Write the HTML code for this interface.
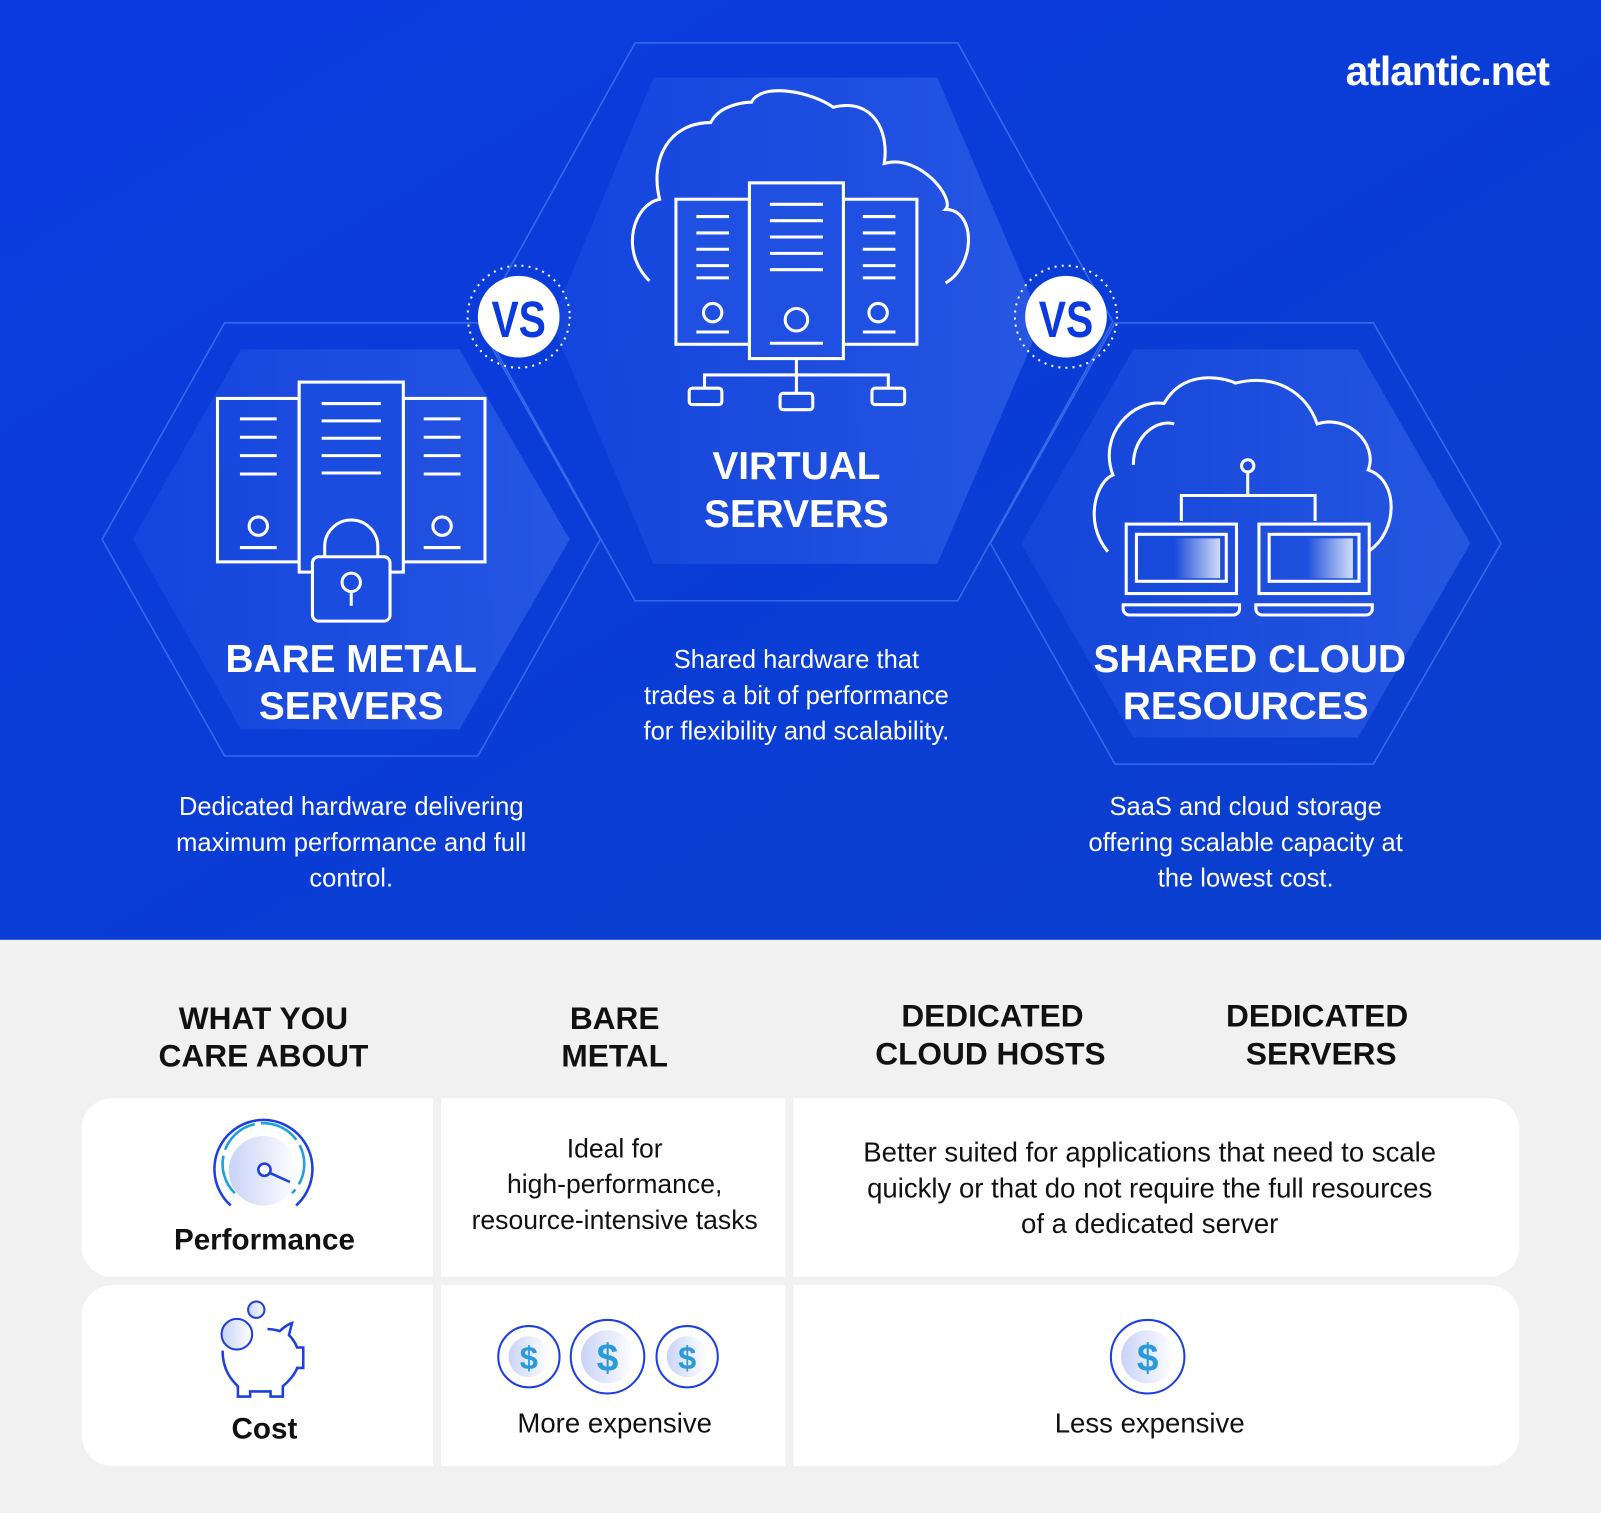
<!DOCTYPE html>
<html><head><meta charset="utf-8"><style>
html,body{margin:0;padding:0;background:#f1f1f1;}
svg{display:block}
text{font-family:"Liberation Sans",sans-serif;}
</style></head><body>
<svg width="1601" height="1513" viewBox="0 0 1568 1481" preserveAspectRatio="none" xmlns="http://www.w3.org/2000/svg">
<defs>
<linearGradient id="bg" x1="0" y1="0" x2="1" y2="1">
<stop offset="0" stop-color="#0b3be0"/><stop offset="1" stop-color="#0a3ecc"/></linearGradient>
<linearGradient id="hx" x1="0" y1="0" x2="1" y2="0">
<stop offset="0" stop-color="#2a5ae6" stop-opacity="0.3"/><stop offset="1" stop-color="#3a68ea" stop-opacity="0.6"/></linearGradient>
<linearGradient id="lg" x1="0" y1="0" x2="1" y2="0">
<stop offset="0" stop-color="#c9d3f7"/><stop offset="1" stop-color="#ffffff"/></linearGradient>
<linearGradient id="scr" x1="0" y1="0" x2="1" y2="0">
<stop offset="0" stop-color="#fff" stop-opacity="0"/><stop offset="1" stop-color="#fff" stop-opacity="0.8"/></linearGradient>
</defs>
<rect width="1568" height="920" fill="url(#bg)"/>
<rect y="920" width="1568" height="561" fill="#f1f1f1"/>
<g fill="none" stroke="#4f7cf0" stroke-width="1.5" opacity="0.7">
<polygon points="100,528 220,316 468,316 588,528 468,740 220,740"/>
<polygon points="470,315 622,42 938,42 1090,315 938,588 622,588"/>
<polygon points="970,532 1092,316 1345,316 1470,532 1345,748 1092,748"/>
</g>
<polygon points="130,528 236,342 450,342 558,528 450,714 236,714" fill="url(#hx)"/>
<polygon points="540,315 640,76 918,76 1020,315 918,552 640,552" fill="url(#hx)"/>
<polygon points="1000,532 1110,342 1330,342 1440,532 1330,722 1110,722" fill="url(#hx)"/>
<text x="1517" y="83" text-anchor="end" font-size="40" font-weight="bold" fill="#fff" letter-spacing="-1">atlantic.net</text>
<g>
<circle cx="508" cy="310" r="50" fill="none" stroke="#fff" stroke-width="2" stroke-dasharray="2 5"/>
<circle cx="508" cy="310" r="40" fill="#fff"/>
<text x="508" y="330" text-anchor="middle" font-size="50" font-weight="bold" fill="#0b3be0" transform="translate(508 0) scale(0.8 1) translate(-508 0)">VS</text>
<circle cx="1044" cy="310" r="50" fill="none" stroke="#fff" stroke-width="2" stroke-dasharray="2 5"/>
<circle cx="1044" cy="310" r="40" fill="#fff"/>
<text x="1044" y="330" text-anchor="middle" font-size="50" font-weight="bold" fill="#0b3be0" transform="translate(1044 0) scale(0.8 1) translate(-1044 0)">VS</text>
</g>
<g fill="none" stroke="#fff" stroke-width="3">
<rect x="213" y="390" width="80" height="160"/>
<rect x="395" y="390" width="80" height="160"/>
<rect x="293" y="374" width="102" height="186" fill="#1a4ce0"/>
<path d="M235 410h36M235 428h36M235 446h36M235 464h36M235 536h36M415 410h36M415 428h36M415 446h36M415 464h36M415 536h36M315 395h58M315 412h58M315 429h58M315 446h58M315 463h58"/>
<circle cx="253" cy="515" r="9"/><circle cx="433" cy="515" r="9"/>
<path d="M318 545v-10a26 26 0 0 1 52 0v10"/>
<rect x="306" y="545" width="76" height="63" rx="6" fill="#1a4ce0"/>
<circle cx="344" cy="570" r="9"/><path d="M344 579v14"/>
</g>
<g fill="none" stroke="#fff" stroke-width="3">
<path d="M636 275c-30-30-15-75 10-80c-10-40 10-75 50-75c10-20 40-20 40-20c10-20 60-10 80 5c40-10 55 25 50 55c35-10 70 35 60 45c30 0 30 55 0 72"/>
<rect x="662" y="195" width="72" height="142" fill="#1f50e2"/>
<rect x="826" y="195" width="72" height="142" fill="#1f50e2"/>
<rect x="734" y="179" width="92" height="172" fill="#1f50e2"/>
<path d="M682 212h32M682 228h32M682 244h32M682 260h32M682 272h32M682 325h32M845 212h32M845 228h32M845 244h32M845 260h32M845 272h32M845 325h32M754 200h52M754 216h52M754 232h52M754 248h52M754 264h52M754 336h52"/>
<circle cx="698" cy="306" r="9"/><circle cx="780" cy="313" r="11"/><circle cx="860" cy="306" r="9"/>
<path d="M780 351v16M690 380v-13h180v13M780 367v17"/>
<rect x="675" y="380" width="32" height="16" rx="3"/><rect x="764" y="385" width="32" height="16" rx="3"/><rect x="854" y="380" width="32" height="16" rx="3"/>
</g>
<g fill="none" stroke="#fff" stroke-width="3">
<path d="M1085 540c-25-30-10-70 5-75c-15-40 20-75 50-70c20-35 60-25 70-20c40-10 70 10 80 40c30-10 60 20 50 45c30 10 30 60 0 80"/>
<path d="M1110 455c0-30 25-45 40-40"/>
<path d="M1222 462v22M1157 510v-25h131v25"/><circle cx="1222" cy="456" r="6"/>
<rect x="1103" y="513" width="108" height="68"/><rect x="1113" y="523" width="88" height="46"/>
<rect x="1233" y="513" width="108" height="68"/><rect x="1243" y="523" width="88" height="46"/>
<path d="M1100 592h114v4a6 6 0 0 1-6 6h-102a6 6 0 0 1-6-6z M1230 592h114v4a6 6 0 0 1-6 6h-102a6 6 0 0 1-6-6z"/>
</g>
<rect x="1150" y="527" width="45" height="39" fill="url(#scr)"/>
<rect x="1280" y="527" width="45" height="39" fill="url(#scr)"/>
<g fill="#fff" font-weight="bold" font-size="38" text-anchor="middle">
<text x="344" y="658">BARE METAL</text><text x="344" y="704">SERVERS</text>
<text x="780" y="469">VIRTUAL</text><text x="780" y="516">SERVERS</text>
<text x="1224" y="658">SHARED CLOUD</text><text x="1220" y="704">RESOURCES</text>
</g>
<g fill="#fff" font-size="25" text-anchor="middle">
<text x="344" y="798">Dedicated hardware delivering</text><text x="344" y="833">maximum performance and full</text><text x="344" y="868">control.</text>
<text x="780" y="654">Shared hardware that</text><text x="780" y="689">trades a bit of performance</text><text x="780" y="724">for flexibility and scalability.</text>
<text x="1220" y="798">SaaS and cloud storage</text><text x="1220" y="833">offering scalable capacity at</text><text x="1220" y="868">the lowest cost.</text>
</g>
<g fill="#111" font-weight="bold" font-size="31" text-anchor="middle">
<text x="258" y="1007">WHAT YOU</text><text x="258" y="1044">CARE ABOUT</text>
<text x="602" y="1007">BARE</text><text x="602" y="1044">METAL</text>
<text x="972" y="1005">DEDICATED</text><text x="970" y="1042">CLOUD HOSTS</text>
<text x="1290" y="1005">DEDICATED</text><text x="1294" y="1042">SERVERS</text>
</g>
<g fill="#fff">
<path d="M110 1075H424V1250H110a30 30 0 0 1-30-30V1105a30 30 0 0 1 30-30z"/>
<rect x="432" y="1075" width="337" height="175"/>
<path d="M777 1075H1458a30 30 0 0 1 30 30V1220a30 30 0 0 1-30 30H777z"/>
<path d="M110 1258H424V1435H110a30 30 0 0 1-30-30V1288a30 30 0 0 1 30-30z"/>
<rect x="432" y="1258" width="337" height="177"/>
<path d="M777 1258H1458a30 30 0 0 1 30 30V1405a30 30 0 0 1-30 30H777z"/>
</g>
<circle cx="258" cy="1146" r="34" fill="url(#lg)"/>
<path d="M226 1180a48 48 0 1 1 64 0" fill="none" stroke="#1d3fe0" stroke-width="2.5"/>
<path d="M230 1168a40 40 0 1 1 56 0" fill="none" stroke="#1aa0e0" stroke-width="2.5" stroke-dasharray="40 6"/>
<circle cx="259" cy="1145" r="6" fill="#fff" stroke="#1d3fe0" stroke-width="2.5"/>
<path d="M264 1148l20 9" stroke="#1d3fe0" stroke-width="2.5"/>
<circle cx="232" cy="1306" r="15" fill="url(#lg)" stroke="#1d3fe0" stroke-width="2"/>
<circle cx="251" cy="1282" r="8" fill="url(#lg)" stroke="#1d3fe0" stroke-width="2"/>
<path d="M218 1322c0 20 10 30 15 35v10h12v-5h20v5h12v-10c6-5 12-12 14-18h6v-20h-6c-3-8-8-12-8-12l3-12c-6 2-10 6-12 8c-3-1-8-2-12-2" fill="none" stroke="#1d3fe0" stroke-width="2.5"/>
<g fill="#111" font-weight="bold" font-size="29" text-anchor="middle">
<text x="259" y="1223">Performance</text><text x="259" y="1408">Cost</text></g>
<g fill="#111" font-size="26" text-anchor="middle">
<text x="602" y="1133">Ideal for</text><text x="602" y="1168">high-performance,</text><text x="602" y="1203">resource-intensive tasks</text>
</g>
<g fill="#111" font-size="27" text-anchor="middle">
<text x="1126" y="1137">Better suited for applications that need to scale</text><text x="1126" y="1172">quickly or that do not require the full resources</text><text x="1126" y="1207">of a dedicated server</text>
<text x="602" y="1402">More expensive</text><text x="1126" y="1402">Less expensive</text>
</g>
<g stroke="#1d3fe0" stroke-width="2" fill="none">
<circle cx="518" cy="1328" r="30"/><circle cx="595" cy="1328" r="36"/><circle cx="673" cy="1328" r="30"/><circle cx="1124" cy="1328" r="36"/>
</g>
<g fill="url(#lg)"><circle cx="518" cy="1328" r="20"/><circle cx="595" cy="1328" r="26"/><circle cx="673" cy="1328" r="20"/><circle cx="1124" cy="1328" r="26"/></g>
<g fill="#2a9ad8" font-weight="bold" text-anchor="middle">
<text x="518" y="1340" font-size="32">$</text><text x="595" y="1342" font-size="38">$</text><text x="673" y="1340" font-size="32">$</text><text x="1124" y="1342" font-size="38">$</text></g>
</svg>
</body></html>
